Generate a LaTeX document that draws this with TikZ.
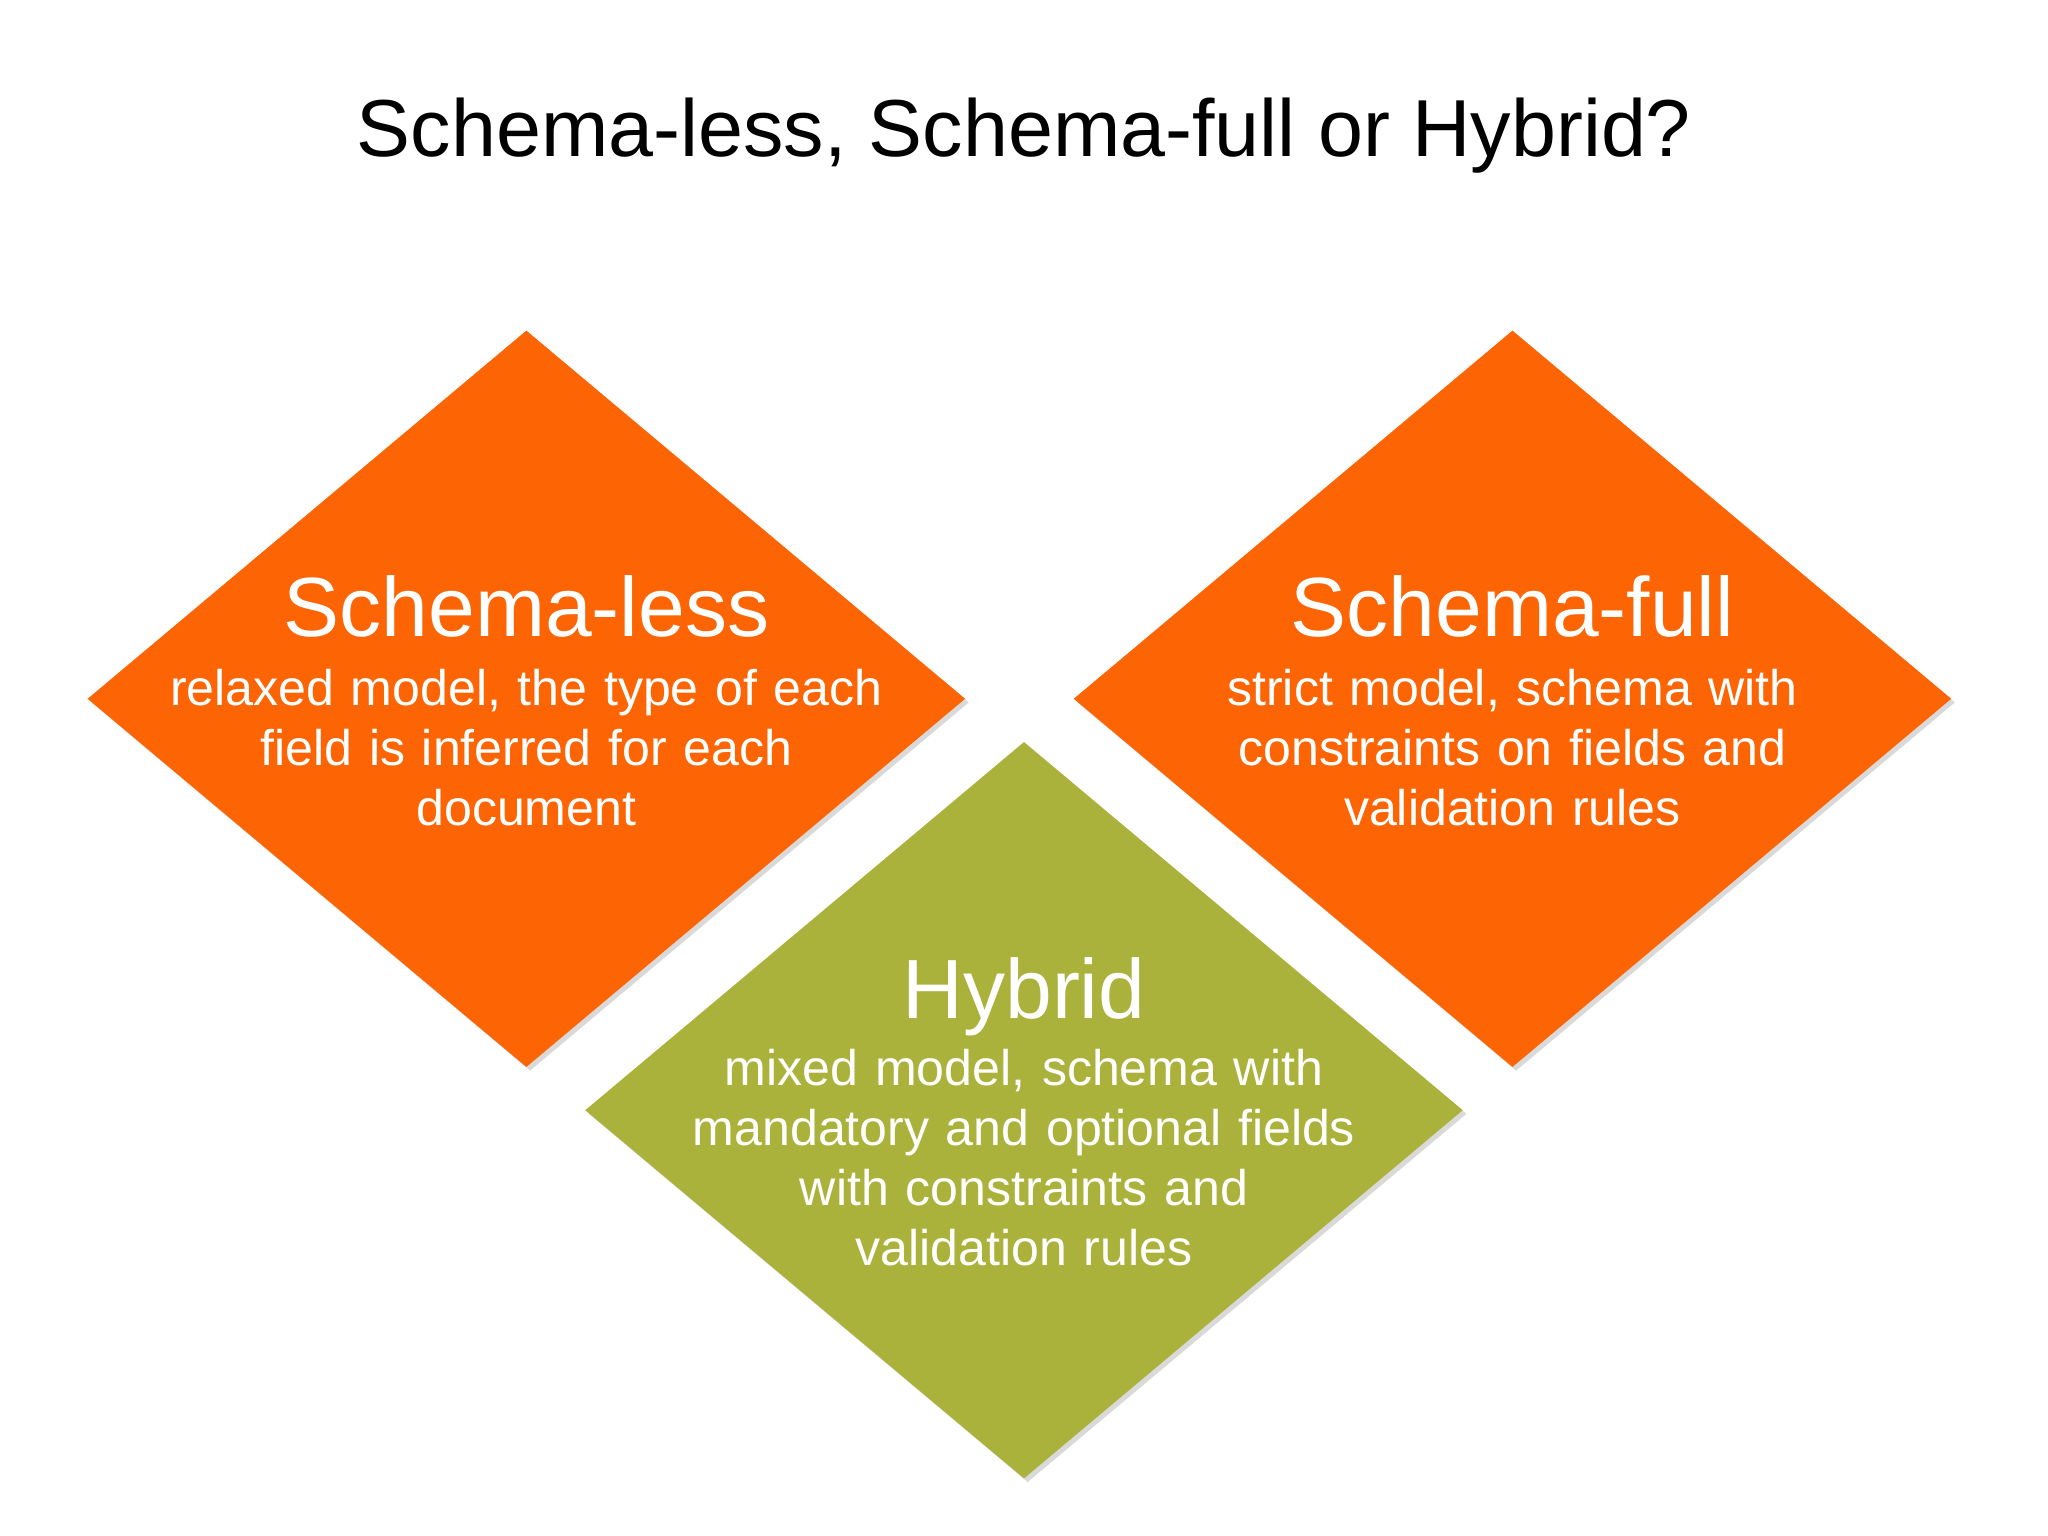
\documentclass[tikz,border=0pt]{standalone}
\usepackage{fontspec}
\setmainfont{Liberation Sans}
\usetikzlibrary{shapes.geometric,shadows}

\definecolor{schemaorange}{HTML}{FC6404}
\definecolor{hybridolive}{HTML}{ABB23B}

\tikzset{
  tile/.style={diamond, draw=none, inner sep=0pt, minimum width=6.72cm, minimum height=5.64cm,
    drop shadow={shadow xshift=0.8pt, shadow yshift=-0.8pt, opacity=0.15, fill=black}},
  headtxt/.style={anchor=base, text=white, font=\fontsize{18.3}{22}\selectfont},
  bodytxt/.style={anchor=base, text=white, align=center, text width=6.4cm,
    font=\fontsize{10.9}{13.1}\selectfont},
}

\begin{document}
\begin{tikzpicture}[x=0.01cm, y=-0.01cm]
	\useasboundingbox[fill=white] (0,0) rectangle (1568,1176);
	\node[anchor=base, font=\fontsize{17.6}{21}\selectfont] (title) at (784,120) {Schema-less, Schema-full or Hybrid?};

	% the three diamonds
	\node[tile, fill=schemaorange] (less) at (403,535) {};
	\node[tile, fill=schemaorange] (full) at (1158,535) {};
	\node[tile, fill=hybridolive] (hyb) at (784,850) {};

	\node[headtxt] (lessh) at (403,487.5) {Schema-less};
	\node[bodytxt] (lessb) at (403,540) {relaxed model, the type of each\\ field is inferred for each\\ document};

	\node[headtxt] (fullh) at (1158,487.5) {Schema-full};
	\node[bodytxt] (fullb) at (1158,540) {strict model, schema with\\ constraints on fields and\\ validation rules};

	\node[headtxt] (hybh) at (784,780) {Hybrid};
	\node[bodytxt] (hybb) at (784,831) {mixed model, schema with\\ mandatory and optional fields\\ with constraints and\\ validation rules};
\end{tikzpicture}
\end{document}
